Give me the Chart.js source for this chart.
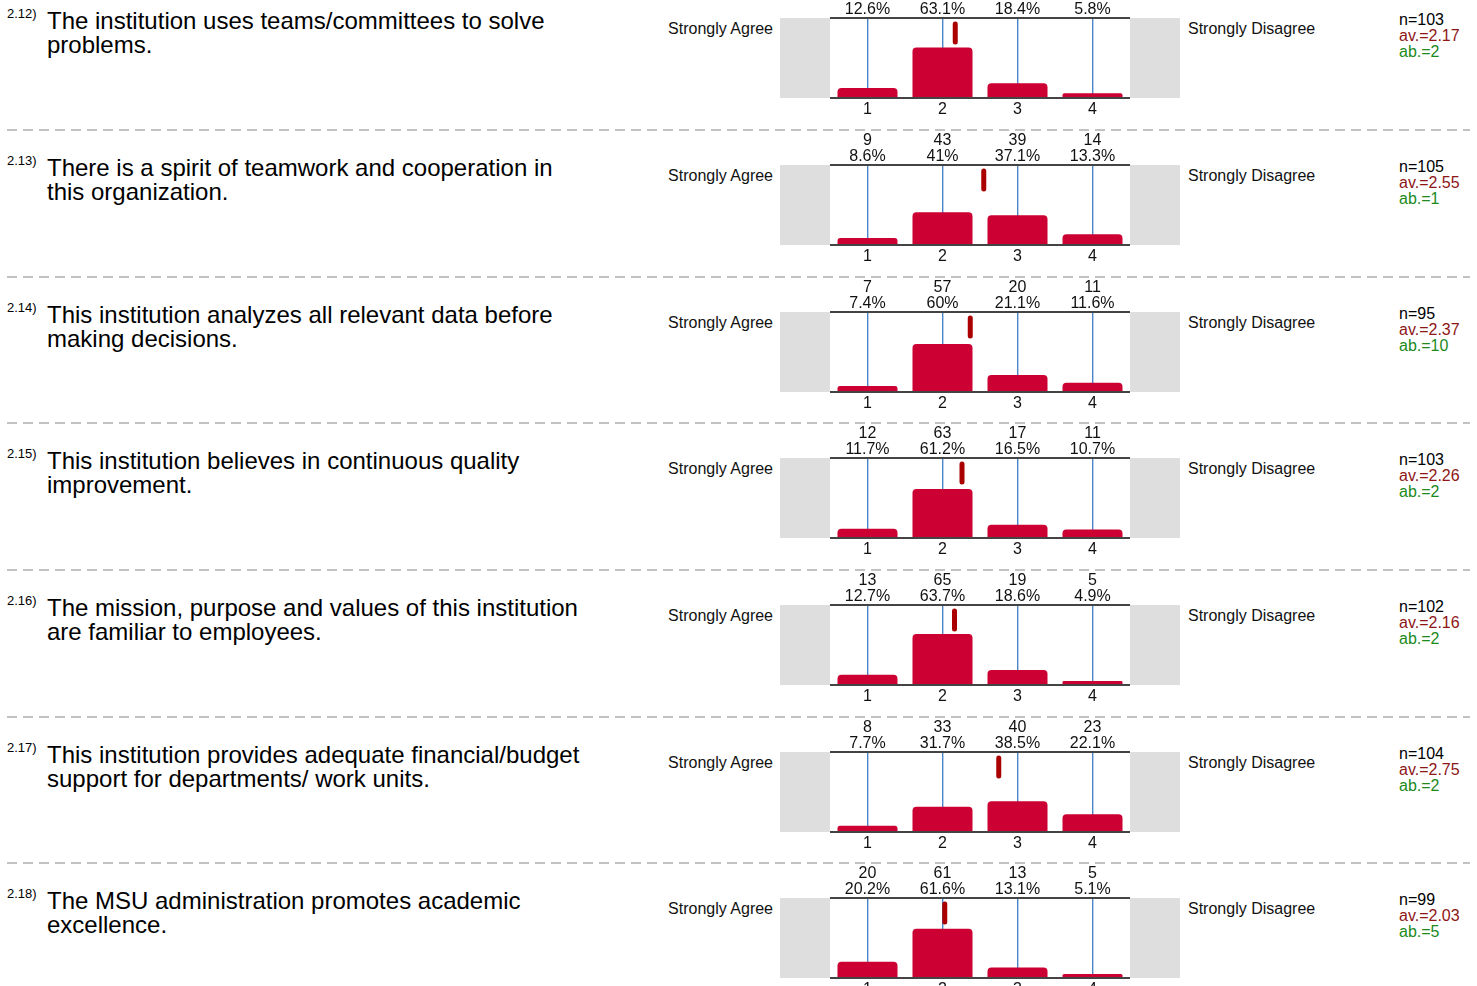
<!DOCTYPE html>
<html>
<head>
<meta charset="utf-8">
<script src="https://cdn.jsdelivr.net/npm/chart.js@4.4.1/dist/chart.umd.min.js"></script>
<style>
  body { margin: 0; width: 1477px; height: 986px; overflow: hidden; background: #fff;
         font-family: "Liberation Sans", Arial, sans-serif; color: #000; position: relative; }
  .abs { position: absolute; white-space: pre; }
  .num { font-size: 13px; line-height: 14px; }
  .question { font-size: 24px; line-height: 24px; }
  .pole { font-size: 16px; line-height: 18px; color: #111; }
  .stats { font-size: 16px; line-height: 16px; }
  .av { color: #8e1616; }
  .ab { color: #1b8a1b; }
  .dash { position: absolute; left: 7px; width: 1463px; height: 2px;
          background: repeating-linear-gradient(to right, #c2c2c2 0 10px, transparent 10px 16px); }
  canvas { position: absolute; }
</style>
</head>
<body>
<script>
// survey items
const questionIds = ['2.12)', '2.13)', '2.14)', '2.15)', '2.16)', '2.17)', '2.18)'];
const questionTexts = [
  'The institution uses teams/committees to solve\nproblems.',
  'There is a spirit of teamwork and cooperation in\nthis organization.',
  'This institution analyzes all relevant data before\nmaking decisions.',
  'This institution believes in continuous quality\nimprovement.',
  'The mission, purpose and values of this institution\nare familiar to employees.',
  'This institution provides adequate financial/budget\nsupport for departments/ work units.',
  'The MSU administration promotes academic\nexcellence.'
];
const categories = ['1', '2', '3', '4'];
const counts = [
  [13, 65, 19, 6],
  [9, 43, 39, 14],
  [7, 57, 20, 11],
  [12, 63, 17, 11],
  [13, 65, 19, 5],
  [8, 33, 40, 23],
  [20, 61, 13, 5]
];
const percents = [
  [12.6, 63.1, 18.4, 5.8],
  [8.6, 41, 37.1, 13.3],
  [7.4, 60, 21.1, 11.6],
  [11.7, 61.2, 16.5, 10.7],
  [12.7, 63.7, 18.6, 4.9],
  [7.7, 31.7, 38.5, 22.1],
  [20.2, 61.6, 13.1, 5.1]
];
const nValues = [103, 105, 95, 103, 102, 104, 99];
const averages = [2.17, 2.55, 2.37, 2.26, 2.16, 2.75, 2.03];
const abstentions = [2, 1, 10, 2, 2, 2, 5];

const ROW_H = 146.67;
const FIRST_ROW = -16.67;
const FONT = '"Liberation Sans", Arial, sans-serif';

function addText(cls, text, left, top, right) {
  const d = document.createElement('div');
  d.className = 'abs ' + cls;
  d.textContent = text;
  d.style.top = top + 'px';
  if (right !== undefined) d.style.right = right + 'px'; else d.style.left = left + 'px';
  document.body.appendChild(d);
  return d;
}

function fmtPct(v) {
  return v.toFixed(1).replace(/\.0$/, '') + '%';
}

// grey side boxes, counts/percent labels and the mean marker
const surveyPlugin = {
  id: 'survey',
  beforeDraw(chart) {
    const { ctx, chartArea: a, width } = chart;
    ctx.save();
    ctx.fillStyle = '#dedede';
    ctx.fillRect(0, a.top, a.left, a.bottom - a.top);
    ctx.fillRect(a.right, a.top, width - a.right, a.bottom - a.top);
    ctx.restore();
  },
  afterDraw(chart) {
    const { ctx, chartArea: a } = chart;
    const o = chart.options.plugins.survey;
    const x = chart.scales.x;
    ctx.save();
    ctx.fillStyle = '#111';
    ctx.font = '16px ' + FONT;
    ctx.textAlign = 'center';
    ctx.textBaseline = 'middle';
    categories.forEach((c, i) => {
      const px = x.getPixelForValue(i);
      ctx.fillText(String(o.counts[i]), px, a.top - 24);
      ctx.fillText(fmtPct(o.percents[i]), px, a.top - 8);
    });
    // mean marker
    const mx = x.getPixelForValue(o.mean - 1);
    ctx.strokeStyle = '#aa0000';
    ctx.lineWidth = 5;
    ctx.lineCap = 'round';
    ctx.beginPath();
    ctx.moveTo(mx, a.top + 6);
    ctx.lineTo(mx, a.top + 24);
    ctx.stroke();
    ctx.restore();
  }
};

questionIds.forEach((id, r) => {
  const R = FIRST_ROW + ROW_H * r;

  if (r > 0) {
    const d = document.createElement('div');
    d.className = 'dash';
    d.style.top = (R - 1) + 'px';
    document.body.appendChild(d);
  }

  addText('num', id, 7, R + 24);
  addText('question', questionTexts[r], 47, R + 26);
  addText('pole', 'Strongly Agree', 0, R + 37, 1477 - 773);
  addText('pole', 'Strongly Disagree', 1188, R + 37);
  addText('stats', 'n=' + nValues[r], 1399, R + 29);
  addText('stats av', 'av.=' + averages[r].toFixed(2), 1399, R + 45);
  addText('stats ab', 'ab.=' + abstentions[r], 1399, R + 61);

  const cv = document.createElement('canvas');
  cv.width = 400;
  cv.height = 135;
  cv.style.left = '780px';
  cv.style.top = R + 'px';
  cv.style.width = '400px';
  cv.style.height = '135px';
  document.body.appendChild(cv);

  new Chart(cv, {
    type: 'bar',
    data: {
      labels: categories,
      datasets: [{
        data: percents[r],
        backgroundColor: '#cc0033',
        borderRadius: { topLeft: 4, topRight: 4 },
        borderSkipped: 'start',
        barPercentage: 0.8,
        categoryPercentage: 1
      }]
    },
    options: {
      responsive: false,
      animation: false,
      layout: { padding: { top: 35, left: 50, right: 50, bottom: 0 } },
      scales: {
        x: {
          z: 1,
          grid: { offset: false, color: '#4a86c8', lineWidth: 1.4, drawTicks: false },
          border: { display: false },
          ticks: { color: '#111', font: { size: 16, family: FONT }, padding: 2 },
          afterFit(s) { s.height = 20; }
        },
        y: {
          min: 0,
          max: 100,
          ticks: { display: false, stepSize: 100 },
          grid: { color: '#444', lineWidth: 2, drawTicks: false },
          border: { display: false },
          afterFit(s) { s.width = 0; }
        }
      },
      plugins: {
        legend: { display: false },
        tooltip: { enabled: false },
        survey: { counts: counts[r], percents: percents[r], mean: averages[r] }
      }
    },
    plugins: [surveyPlugin]
  });
});
</script>
</body>
</html>
